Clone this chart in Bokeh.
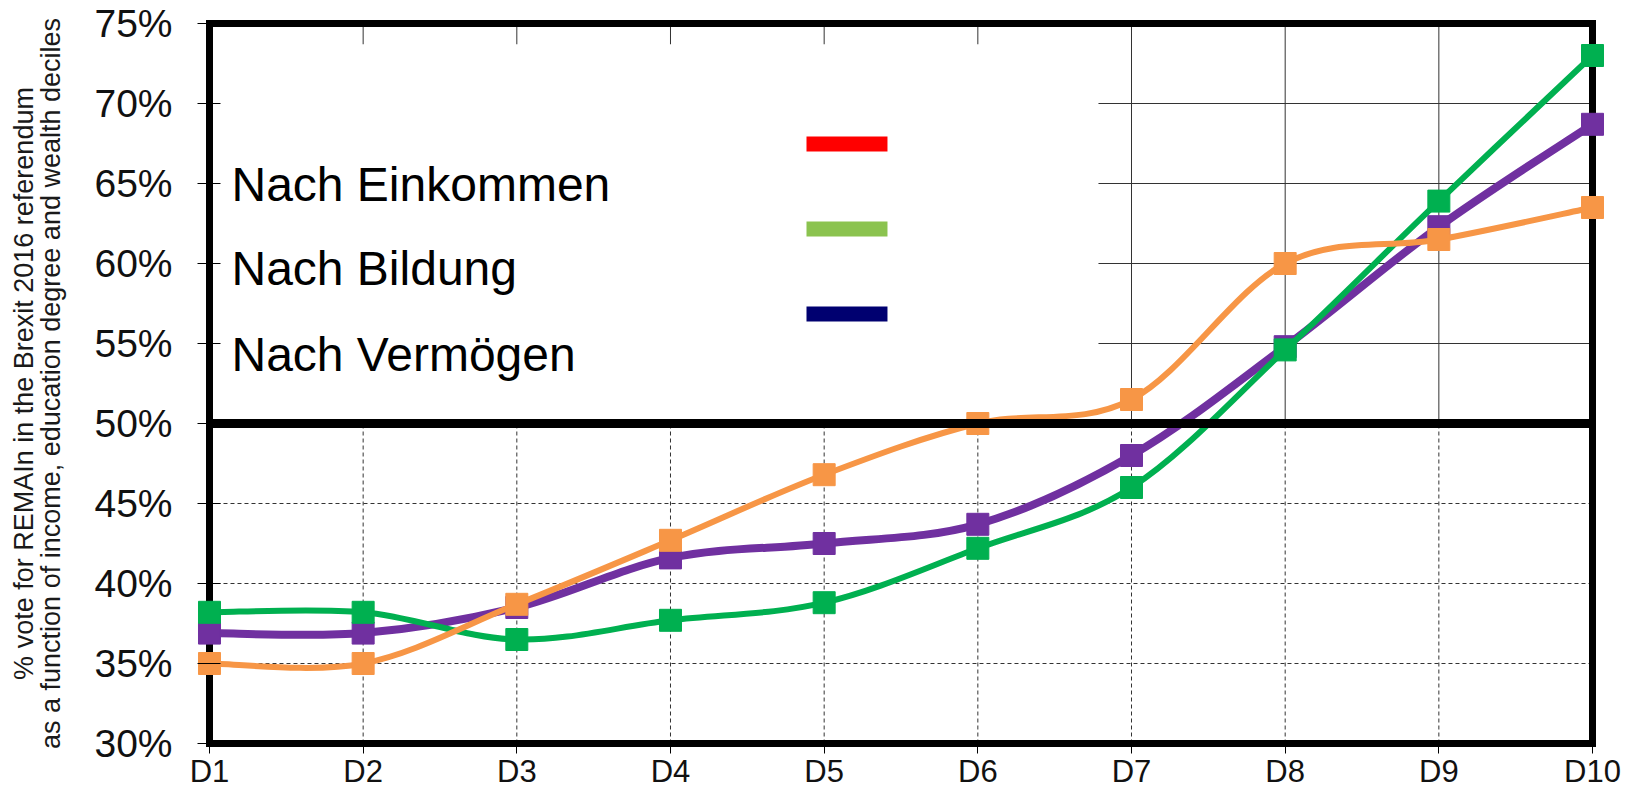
from bokeh.plotting import figure
from bokeh.models import Range1d, FixedTicker, ColumnDataSource
from bokeh.core.properties import value
from bokeh.embed import file_html
from bokeh.resources import INLINE

# ---------------- data ----------------
deciles = ["D1", "D2", "D3", "D4", "D5", "D6", "D7", "D8", "D9", "D10"]
orange_vals = [35.0, 35.0, 38.7, 42.7, 46.8, 50.0, 51.5, 60.0, 61.5, 63.5]
purple_vals = [36.9, 36.9, 38.5, 41.6, 42.5, 43.7, 48.0, 54.8, 62.3, 68.7]
green_vals = [38.2, 38.2, 36.5, 37.7, 38.8, 42.2, 46.0, 54.6, 63.9, 73.0]
y_ticks = [30, 35, 40, 45, 50, 55, 60, 65, 70, 75]
y_tick_labels = ["30%", "35%", "40%", "45%", "50%", "55%", "60%", "65%", "70%", "75%"]
legend_labels = ["Nach Einkommen", "Nach Bildung", "Nach Vermögen"]
legend_colors = ["#FF0000", "#8BC34F", "#000070"]
ylabel_line1 = "% vote for REMAIn in the Brexit 2016 referendum"
ylabel_line2 = "as a function of income, education degree and wealth deciles"

FONT = "Liberation Sans"
xs = list(range(len(deciles)))
x_lo, x_hi = xs[0], xs[-1]
y_lo, y_hi = y_ticks[0], y_ticks[-1]
XPAD, YPAD = 0.078, 0.3125

p = figure(width=1632, height=794,
           x_range=Range1d(x_lo - XPAD, x_hi + XPAD),
           y_range=Range1d(y_lo - YPAD, y_hi + YPAD),
           output_backend="svg", toolbar_location=None,
           min_border_left=197, min_border_right=28,
           min_border_top=18, min_border_bottom=46)
p.outline_line_color = None
p.background_fill_color = "white"
p.border_fill_color = "white"
p.xgrid.visible = False
p.ygrid.visible = False

# ---------------- axes ----------------
p.xaxis.ticker = FixedTicker(ticks=xs)
p.xaxis.major_label_overrides = {i: d for i, d in zip(xs, deciles)}
p.xaxis.axis_line_color = None
p.xaxis.major_tick_in = 5
p.xaxis.major_tick_out = 5
p.xaxis.major_tick_line_color = "black"
p.xaxis.minor_tick_line_color = None
p.xaxis.major_label_standoff = 0
p.xaxis.major_label_text_font = FONT
p.xaxis.major_label_text_font_size = "31px"
p.xaxis.major_label_text_color = "#111111"

p.yaxis.ticker = FixedTicker(ticks=y_ticks)
p.yaxis.major_label_overrides = {t: l for t, l in zip(y_ticks, y_tick_labels)}
p.yaxis.axis_line_color = None
p.yaxis.major_tick_in = 23
p.yaxis.major_tick_out = 0
p.yaxis.major_tick_line_color = "black"
p.yaxis.minor_tick_line_color = None
p.yaxis.major_label_standoff = 25
p.yaxis.major_label_text_font = FONT
p.yaxis.major_label_text_font_size = "39px"
p.yaxis.major_label_text_color = "#111111"
p.yaxis.axis_label = ylabel_line1 + "\n" + ylabel_line2
p.yaxis.axis_label_text_font = FONT
p.yaxis.axis_label_text_font_size = "27px"
p.yaxis.axis_label_text_font_style = "normal"
p.yaxis.axis_label_text_color = "#1a1a1a"
p.yaxis.axis_label_text_line_height = 0.9
p.yaxis.axis_label_standoff = 25

# ---------------- grid (drawn from tick lists) ----------------
mid = 50
upper_h = [t for t in y_ticks if mid < t < y_hi]
lower_h = [t for t in y_ticks if y_lo < t < mid]
inner_x = xs[1:-1]
grid_color = "#333333"
p.segment(x0=[x_lo] * len(upper_h), x1=[x_hi] * len(upper_h), y0=upper_h, y1=upper_h,
          line_color=grid_color, line_width=1)
p.segment(x0=[x_lo] * len(lower_h), x1=[x_hi] * len(lower_h), y0=lower_h, y1=lower_h,
          line_color=grid_color, line_width=1, line_dash="4 3")
p.segment(x0=inner_x, x1=inner_x, y0=[mid] * len(inner_x), y1=[y_hi] * len(inner_x),
          line_color=grid_color, line_width=1)
p.segment(x0=inner_x, x1=inner_x, y0=[y_lo] * len(inner_x), y1=[mid] * len(inner_x),
          line_color=grid_color, line_width=1, line_dash="4 3")

# white legend panel covering upper-left grid
p.quad(left=[x_lo], right=[5.785], bottom=[mid], top=[73.7],
       fill_color="white", line_color=None)

# thick frame
p.quad(left=[x_lo], right=[x_hi], bottom=[y_lo], top=[y_hi],
       fill_color=None, line_color="black", line_width=7, line_join="miter")

# legend texts and swatches
leg_src = ColumnDataSource(dict(
    x=[0.143] * 3, y=[64.94, 59.66, 54.31], text=legend_labels,
    left=[3.885] * 3, right=[4.412] * 3,
    bottom=[67.0, 61.69, 56.375], top=[67.94, 62.625, 57.31], color=legend_colors))
p.text(x="x", y="y", text="text", source=leg_src, text_font=value(FONT),
       text_font_size="48px", text_color="black", text_align="left",
       text_baseline="alphabetic")
p.quad(left="left", right="right", bottom="bottom", top="top", source=leg_src,
       fill_color="color", line_color=None)


# ---------------- smoothed series ----------------
def smooth_segments(xv, yv):
    n = len(xv)
    out = dict(x0=[], y0=[], x1=[], y1=[], cx0=[], cy0=[], cx1=[], cy1=[])
    for i in range(n - 1):
        i0 = max(i - 1, 0)
        i3 = min(i + 2, n - 1)
        out["x0"].append(xv[i]); out["y0"].append(yv[i])
        out["x1"].append(xv[i + 1]); out["y1"].append(yv[i + 1])
        out["cx0"].append(xv[i] + (xv[i + 1] - xv[i0]) / 6.0)
        out["cy0"].append(yv[i] + (yv[i + 1] - yv[i0]) / 6.0)
        out["cx1"].append(xv[i + 1] - (xv[i3] - xv[i]) / 6.0)
        out["cy1"].append(yv[i + 1] - (yv[i3] - yv[i]) / 6.0)
    return out


series = [
    (purple_vals, "#7030A0", 8),
    (green_vals, "#00B050", 6),
    (orange_vals, "#F79646", 6),
]
for vals, col, lw in series:
    seg = ColumnDataSource(smooth_segments(xs, vals))
    p.bezier(x0="x0", y0="y0", x1="x1", y1="y1", cx0="cx0", cy0="cy0",
             cx1="cx1", cy1="cy1", source=seg, line_color=col, line_width=lw,
             line_cap="round")
    p.scatter(x=xs, y=vals, marker="square", size=22, fill_color=col,
              line_color=col)

# thick 50% line
p.segment(x0=[x_lo], x1=[x_hi], y0=[mid], y1=[mid], line_color="black", line_width=9)

open("out.html", "w").write(file_html(p, INLINE))
